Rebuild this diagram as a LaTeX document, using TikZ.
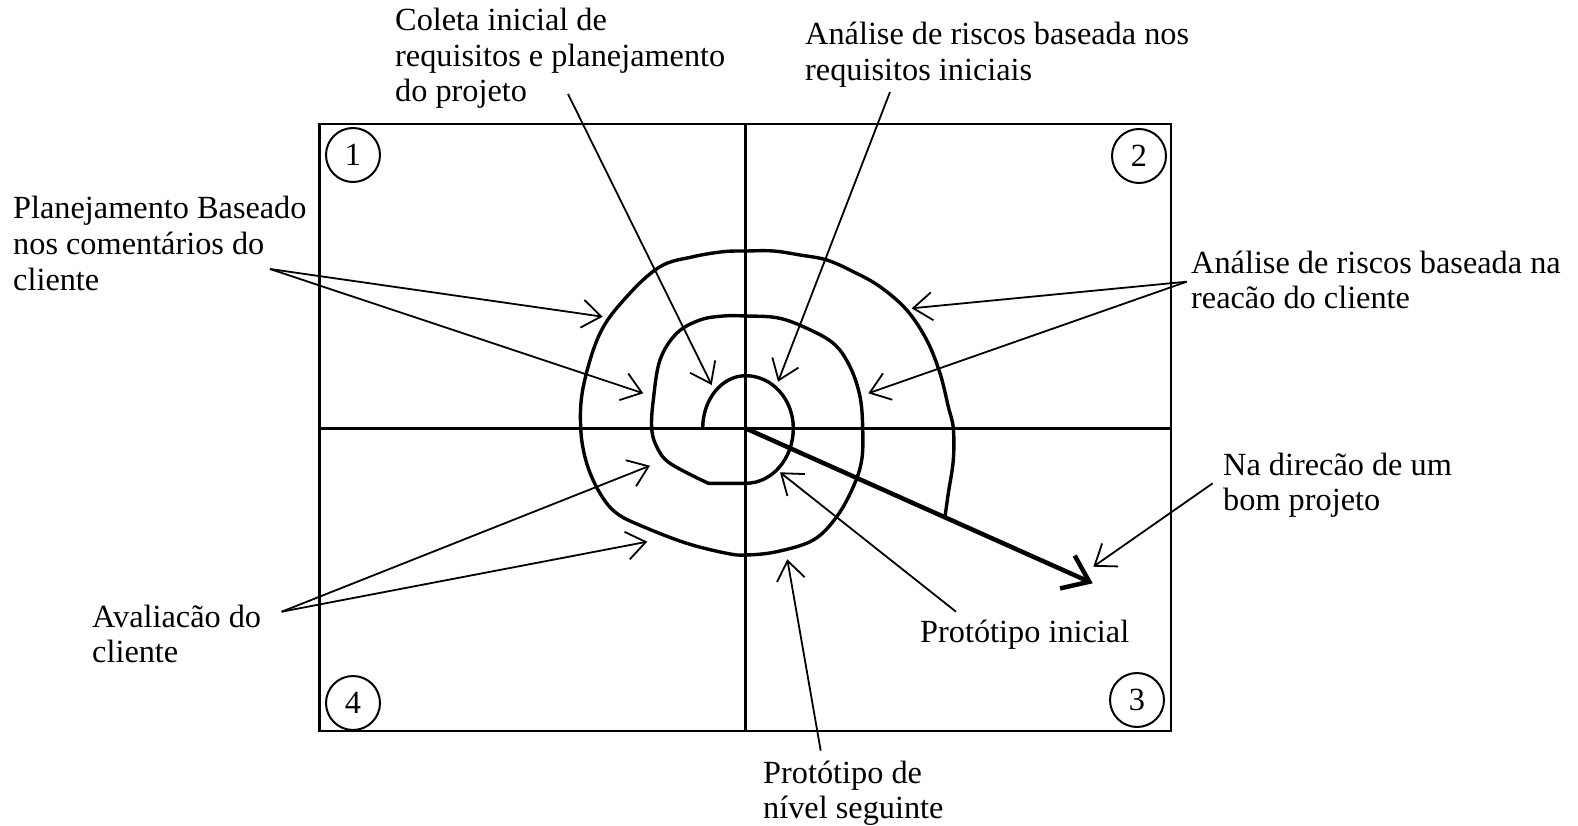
\documentclass[tikz,border=0pt]{standalone}
\usepackage{fontspec}
\setmainfont{Liberation Serif}
\usetikzlibrary{arrows.meta}
\begin{document}
\begin{tikzpicture}[x=1pt,y=-1pt,
  lbl/.style={font=\fontsize{32.3}{35.5}\selectfont, inner sep=0pt, anchor=base west, align=left},
  ptr/.style={line width=1.8pt, -{Straight Barb[length=19pt,width=28pt]}},
  bigptr/.style={line width=4.5pt, -{Straight Barb[length=24pt,width=36pt]}},
  frameline/.style={line width=2.4pt},
  spiral/.style={line width=3.4pt, line join=round, line cap=round},
  num/.style={circle, draw, line width=2pt, minimum size=54pt, inner sep=0pt, font=\fontsize{32.3}{35.5}\selectfont}]
\useasboundingbox (0,0) rectangle (1578,826);
\fill[white] (0,0) rectangle (1578,826);

% frame and quadrant lines
\coordinate (fnw) at (319.5,124);
\coordinate (fse) at (1171,731);
\coordinate (c) at (745.5,428.3);
\coordinate (ctop) at (745.5,124);
\coordinate (cbot) at (745.5,731);
\coordinate (cleft) at (319.5,428.3);
\coordinate (cright) at (1171,428.3);
\draw[frameline] (fnw) rectangle (fse);
\draw[frameline] (ctop) -- (cbot);
\draw[frameline] (cleft) -- (cright);

% quadrant numbers
\node[num] (n1) at (353,155) {1};
\node[num] (n2) at (1139,156) {2};
\node[num] (n3) at (1137,700) {3};
\node[num] (n4) at (353,703) {4};

% spiral: innermost turn
\draw[spiral] (702.7,428.3) arc[start angle=180, end angle=270, x radius=43, y radius=52.6]
  arc[start angle=270, end angle=360, x radius=47.6, y radius=52.6]
  arc[start angle=0, end angle=90, x radius=47.6, y radius=55]
  -- (708.3,483.3);
% spiral: outer turns
\draw[spiral] plot[smooth, tension=0.6] coordinates {(708.3,483.3) (670,463.3) (656.7,446.7) (651.7,428.3) (653.3,400) (660,360) (676.7,333.3) (700,320) (723.3,316) (745.7,316) (776.7,317.7) (803.3,326.7) (833.3,343.3) (850,366.7) (860,396.7) (862.7,428.3) (861.7,460) (853.3,486.7) (836.7,516.7) (813.3,540) (776.7,551.7) (745.7,555) (726.7,553.3) (686.7,543.3) (643.3,526.7) (616.7,513.3) (600,493.3) (586.7,463.3) (580.7,428.3) (583.3,386.7) (600,333.3) (626.7,296.7) (660,266.7) (693.3,256.7) (723.3,251.7) (745.7,251) (773.3,251) (800,255) (826.7,260) (853.3,271.7) (880,286.7) (906.7,310) (926.7,340) (940,373.3) (948.3,406.7) (953.3,428.3) (953.3,460) (948.3,493.3) (945,516.7)};

% thick arrow
\coordinate (bigtip) at (1092.7,583.3);
\draw[bigptr] (c) -- (bigtip);

% labels (anchored at the baseline of their last line)
\node[lbl] (coleta) at (395,102) {Coleta inicial de\\requisitos e planejamento\\do projeto};
\node[lbl] (analise1) at (805,80.5) {Análise de riscos baseada nos\\requisitos iniciais};
\node[lbl] (plan) at (13,290) {Planejamento Baseado\\nos comentários do\\cliente};
\node[lbl] (analise2) at (1191,308.5) {Análise de riscos baseada na\\reacão do cliente};
\node[lbl] (direcao) at (1223,510.5) {Na direcão de um\\bom projeto};
\node[lbl] (aval) at (92,662.5) {Avaliacão do\\cliente};
\node[lbl] (protini) at (920,642) {Protótipo inicial};
\node[lbl] (protseg) at (763,818.5) {Protótipo de\\nível seguinte};

% pointer arrows
\coordinate (s1) at (568,94);     \coordinate (t1) at (711.7,385);
\coordinate (s2) at (890,92);     \coordinate (t2) at (778,381.7);
\coordinate (s3) at (270,269);    \coordinate (t3a) at (602.7,316.7); \coordinate (t3b) at (643.3,393.3);
\coordinate (s4) at (1186.7,281.7); \coordinate (t4a) at (911.7,308.3); \coordinate (t4b) at (868.3,393.3);
\coordinate (s5) at (281.7,611.7); \coordinate (t5a) at (650,465.7); \coordinate (t5b) at (647.3,541.7);
\coordinate (s6) at (820.7,750.7); \coordinate (t6) at (787.3,559.3);
\coordinate (s7) at (956,611.7);  \coordinate (t7) at (780,472.3);
\coordinate (s8) at (1212.7,483.3); \coordinate (t8) at (1093.3,566.7);

\draw[ptr] (s1) -- (t1);
\draw[ptr] (s2) -- (t2);
\draw[ptr] (s3) -- (t3a);
\draw[ptr] (s3) -- (t3b);
\draw[ptr] (s4) -- (t4a);
\draw[ptr] (s4) -- (t4b);
\draw[ptr] (s5) -- (t5a);
\draw[ptr] (s5) -- (t5b);
\draw[ptr] (s6) -- (t6);
\draw[ptr] (s7) -- (t7);
\draw[ptr] (s8) -- (t8);
\end{tikzpicture}
\end{document}
